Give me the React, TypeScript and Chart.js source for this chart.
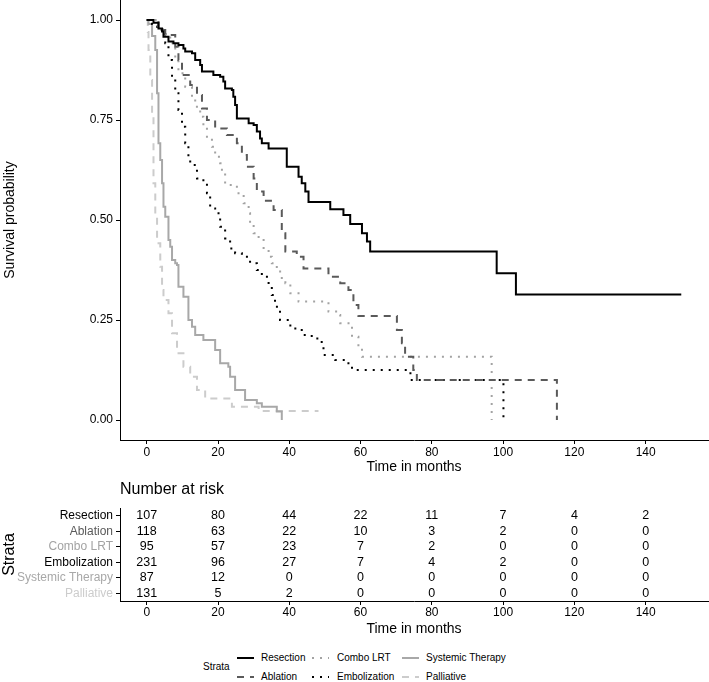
import React, { useEffect, useRef } from 'react';
import { Chart, registerables } from 'chart.js';
Chart.register(...registerables);

const FONT = '"Liberation Sans", Arial, Helvetica, sans-serif';

const strata = ['Resection', 'Ablation', 'Combo LRT', 'Embolization', 'Systemic Therapy', 'Palliative'];
const strataColors = ['#000000', '#5a5a5a', '#a3a3a3', '#000000', '#a8a8a8', '#cccccc'];
const strataDash: number[][] = [[], [7, 6], [2, 6], [2, 6], [], [7, 6]];

// Kaplan-Meier step points (time in months, survival probability)
const resectionTime = [0, 1.9, 3.3, 4.3, 4.7, 6.1, 7.5, 8.9, 10.3, 10.8, 12.7, 13.6, 15.0, 15.5, 18.7, 20.6, 21.5, 22.0, 23.9, 24.3, 24.8, 25.3, 28.6, 30.0, 30.9, 31.8, 32.3, 34.2, 39.3, 42.6, 43.5, 44.5, 45.4, 51.5, 55.2, 57.1, 60.4, 61.8, 62.7, 98.2, 103.6, 150];
const resectionSurv = [1, 0.993, 0.979, 0.971, 0.958, 0.946, 0.942, 0.9375, 0.929, 0.921, 0.917, 0.9, 0.8875, 0.871, 0.8625, 0.858, 0.846, 0.829, 0.825, 0.808, 0.7875, 0.754, 0.742, 0.7375, 0.721, 0.704, 0.692, 0.679, 0.633, 0.608, 0.592, 0.571, 0.545, 0.527, 0.5125, 0.49, 0.467, 0.446, 0.421, 0.367, 0.314, 0.314];

const ablationTime = [0, 3.3, 5.2, 8.0, 8.9, 9.9, 12.2, 14.1, 15.5, 16.9, 19.2, 22.5, 25.3, 26.7, 28.1, 30.0, 30.9, 32.8, 35.6, 37.9, 38.9, 42.1, 44.0, 51.0, 54.3, 56.6, 58.0, 59.4, 70.2, 71.6, 72.5, 74.8, 75.8, 115.1];
const ablationSurv = [1, 0.975, 0.9625, 0.933, 0.9, 0.8625, 0.8375, 0.8125, 0.779, 0.75, 0.729, 0.7125, 0.692, 0.6625, 0.633, 0.604, 0.571, 0.548, 0.525, 0.467, 0.421, 0.408, 0.379, 0.358, 0.342, 0.325, 0.2875, 0.26, 0.225, 0.192, 0.158, 0.125, 0.1, 0];

const comboTime = [0, 2.5, 4.5, 6.6, 8.0, 8.9, 10.8, 12.7, 13.6, 15.0, 15.9, 16.9, 18.3, 19.2, 20.6, 21.1, 22.0, 25.3, 27.2, 28.6, 29.0, 30.0, 31.4, 32.8, 34.2, 35.1, 36.5, 37.9, 38.9, 40.3, 42.6, 51.0, 53.8, 54.3, 57.6, 59.4, 60.4, 96.8];
const comboSurv = [1, 0.985, 0.965, 0.942, 0.9, 0.867, 0.833, 0.808, 0.783, 0.758, 0.733, 0.708, 0.683, 0.658, 0.642, 0.617, 0.5875, 0.567, 0.542, 0.517, 0.492, 0.467, 0.454, 0.425, 0.408, 0.392, 0.371, 0.35, 0.342, 0.317, 0.296, 0.271, 0.2625, 0.242, 0.208, 0.183, 0.158, 0];

const embolTime = [0, 1.5, 2.9, 5.2, 6.1, 7.1, 8.0, 8.9, 9.9, 10.8, 11.7, 12.2, 14.1, 15.9, 16.9, 17.8, 19.2, 20.6, 22.0, 23.4, 24.8, 26.7, 29.0, 30.9, 32.3, 34.2, 35.1, 36.0, 37.4, 40.3, 43.5, 46.3, 49.1, 49.6, 52.9, 56.6, 57.6, 74.0, 100.1];
const embolSurv = [1, 0.99, 0.975, 0.942, 0.9, 0.858, 0.817, 0.775, 0.733, 0.692, 0.658, 0.6375, 0.604, 0.592, 0.567, 0.529, 0.517, 0.483, 0.454, 0.429, 0.417, 0.408, 0.392, 0.375, 0.358, 0.333, 0.3125, 0.283, 0.25, 0.229, 0.2125, 0.204, 0.183, 0.1625, 0.15, 0.1375, 0.125, 0.1, 0];

const systemicTime = [0, 0.5, 1.5, 2.4, 2.9, 3.3, 3.8, 4.3, 4.7, 5.2, 6.1, 6.6, 7.1, 8.0, 8.5, 8.9, 10.3, 11.7, 12.7, 13.6, 15.9, 19.2, 20.6, 22.9, 23.4, 24.8, 27.6, 30.9, 32.3, 36.5, 37.9];
const systemicSurv = [1, 0.99, 0.96, 0.925, 0.817, 0.692, 0.65, 0.592, 0.533, 0.508, 0.45, 0.433, 0.4, 0.392, 0.3875, 0.333, 0.308, 0.25, 0.233, 0.2125, 0.2, 0.175, 0.142, 0.133, 0.108, 0.075, 0.05, 0.042, 0.033, 0.021, 0];

const palliativeTime = [0, 0.3, 0.5, 1.0, 1.5, 1.9, 2.4, 2.9, 3.8, 4.3, 4.7, 6.1, 7.1, 8.5, 10.3, 12.2, 14.1, 16.4, 23.9, 31.4, 48.2];
const palliativeSurv = [1, 0.97, 0.925, 0.85, 0.758, 0.592, 0.508, 0.442, 0.383, 0.325, 0.3, 0.267, 0.217, 0.167, 0.133, 0.108, 0.075, 0.054, 0.033, 0.0225, 0.0225];

const xTicks = [0, 20, 40, 60, 80, 100, 120, 140];
const yTicks = [0, 0.25, 0.5, 0.75, 1];

// Number at risk table
const riskTimes = [0, 20, 40, 60, 80, 100, 120, 140];
const riskResection = [107, 80, 44, 22, 11, 7, 4, 2];
const riskAblation = [118, 63, 22, 10, 3, 2, 0, 0];
const riskCombo = [95, 57, 23, 7, 2, 0, 0, 0];
const riskEmbolization = [231, 96, 27, 7, 4, 2, 0, 0];
const riskSystemic = [87, 12, 0, 0, 0, 0, 0, 0];
const riskPalliative = [131, 5, 2, 0, 0, 0, 0, 0];

const seriesTimes = [resectionTime, ablationTime, comboTime, embolTime, systemicTime, palliativeTime];
const seriesSurv = [resectionSurv, ablationSurv, comboSurv, embolSurv, systemicSurv, palliativeSurv];
const riskRows = [riskResection, riskAblation, riskCombo, riskEmbolization, riskSystemic, riskPalliative];

const axisCommon = {
  grid: { display: true, drawOnChartArea: false, drawTicks: true, tickLength: 4, color: '#000', lineWidth: 1 },
  border: { display: true, color: '#000', width: 1 },
};

export default function App() {
  const mainRef = useRef<HTMLCanvasElement>(null);
  const riskRef = useRef<HTMLCanvasElement>(null);

  useEffect(() => {
    document.body.style.margin = '0';
    Chart.defaults.font.family = FONT;

    const main = new Chart(mainRef.current!, {
      type: 'line',
      data: {
        datasets: strata.map((name, i) => ({
          label: name,
          data: seriesTimes[i].map((t, k) => ({ x: t, y: seriesSurv[i][k] })),
          borderColor: strataColors[i],
          backgroundColor: strataColors[i],
          borderWidth: 2,
          borderDash: strataDash[i],
          stepped: true,
          pointRadius: 0,
          fill: false,
        })),
      },
      options: {
        responsive: false,
        animation: false,
        devicePixelRatio: 1,
        layout: { padding: { top: 20, right: 1, left: 0, bottom: 0 } },
        plugins: { legend: { display: false }, tooltip: { enabled: false } },
        scales: {
          x: {
            type: 'linear',
            min: -7.5,
            max: 157.5,
            ...axisCommon,
            afterBuildTicks: (s: any) => { s.ticks = xTicks.map((v) => ({ value: v })); },
            afterFit: (s: any) => { s.height = 40; },
            ticks: { padding: 1, color: '#000', font: { family: FONT, size: 12 }, maxRotation: 0, autoSkip: false, callback: (v: any) => String(v) },
            title: { display: true, text: 'Time in months', color: '#000', font: { family: FONT, size: 14 }, padding: { top: 0, bottom: 4.6 } },
          },
          y: {
            type: 'linear',
            min: -0.05,
            max: 1.05,
            ...axisCommon,
            afterBuildTicks: (s: any) => { s.ticks = yTicks.map((v) => ({ value: v })); },
            afterFit: (s: any) => { s.width = 120; },
            ticks: { padding: 3, color: '#000', font: { family: FONT, size: 12 }, callback: (v: any) => Number(v).toFixed(2) },
            title: { display: true, text: 'Survival probability', color: '#000', font: { family: FONT, size: 14 }, padding: { top: 1.6, bottom: 0 } },
          },
        },
      },
    } as any);

    const riskPlugin = {
      id: 'riskNumbers',
      afterDraw(chart: any) {
        const { ctx, scales, chartArea } = chart;
        const x = scales.x;
        const y = scales.y;
        ctx.save();
        ctx.fillStyle = '#000';
        ctx.font = `12.5px ${FONT}`;
        ctx.textAlign = 'center';
        ctx.textBaseline = 'middle';
        riskRows.forEach((row, i) => {
          row.forEach((v, j) => {
            ctx.fillText(String(v), x.getPixelForValue(riskTimes[j]), y.getPixelForValue(i));
          });
        });
        ctx.font = `16px ${FONT}`;
        ctx.textAlign = 'left';
        ctx.fillText('Number at risk', chartArea.left, chartArea.top - 18);
        ctx.restore();
      },
    };

    const risk = new Chart(riskRef.current!, {
      type: 'scatter',
      data: { datasets: [] },
      options: {
        responsive: false,
        animation: false,
        devicePixelRatio: 1,
        layout: { padding: { top: 38, right: 1, left: 0, bottom: 0 } },
        plugins: { legend: { display: false }, tooltip: { enabled: false } },
        scales: {
          x: {
            type: 'linear',
            min: -7.5,
            max: 157.5,
            ...axisCommon,
            afterBuildTicks: (s: any) => { s.ticks = riskTimes.map((v) => ({ value: v })); },
            afterFit: (s: any) => { s.height = 39; },
            ticks: { padding: 0, color: '#000', font: { family: FONT, size: 12 }, maxRotation: 0, autoSkip: false, callback: (v: any) => String(v) },
            title: { display: true, text: 'Time in months', color: '#000', font: { family: FONT, size: 14 }, padding: { top: 0, bottom: 2.6 } },
          },
          y: {
            type: 'linear',
            min: -0.5,
            max: 5.5,
            reverse: true,
            ...axisCommon,
            afterBuildTicks: (s: any) => { s.ticks = strata.map((_, i) => ({ value: i })); },
            afterFit: (s: any) => { s.width = 120; },
            ticks: {
              padding: 3,
              font: { family: FONT, size: 12 },
              color: (c: any) => strataColors[c.index] || '#000',
              callback: (v: any) => strata[Math.round(Number(v))],
            },
            title: { display: true, text: 'Strata', color: '#000', font: { family: FONT, size: 16 }, padding: { top: 0.4, bottom: 0 } },
          },
        },
      },
      plugins: [riskPlugin],
    } as any);

    return () => {
      main.destroy();
      risk.destroy();
    };
  }, []);

  const legendCols = [237, 312, 402];
  const legendText = [261, 337, 426];
  const legendRowsY = [658, 677];
  const legendOrder = [[0, 2, 4], [1, 3, 5]];

  return (
    <div style={{ position: 'relative', width: 709, height: 682, overflow: 'hidden', background: '#fff', fontFamily: FONT }}>
      <canvas ref={mainRef} width={709} height={500} style={{ position: 'absolute', left: 0, top: -20, width: 709, height: 500 }} />
      <canvas ref={riskRef} width={709} height={170} style={{ position: 'absolute', left: 0, top: 470, width: 709, height: 170 }} />
      <div style={{ position: 'absolute', left: 203, top: 667, transform: 'translateY(-50%)', fontSize: 10, color: '#000', lineHeight: '12px' }}>Strata</div>
      {legendOrder.map((row, r) =>
        row.map((si, c) => (
          <React.Fragment key={`${r}-${c}`}>
            <svg width={17} height={6} style={{ position: 'absolute', left: legendCols[c], top: legendRowsY[r] - 3 }}>
              <line x1={0} y1={3} x2={17} y2={3} stroke={strataColors[si]} strokeWidth={2} strokeDasharray={strataDash[si].length ? strataDash[si].join(',') : undefined} />
            </svg>
            <div style={{ position: 'absolute', left: legendText[c], top: legendRowsY[r] - 6, fontSize: 10, lineHeight: '12px', color: '#000', whiteSpace: 'nowrap' }}>{strata[si]}</div>
          </React.Fragment>
        ))
      )}
    </div>
  );
}
